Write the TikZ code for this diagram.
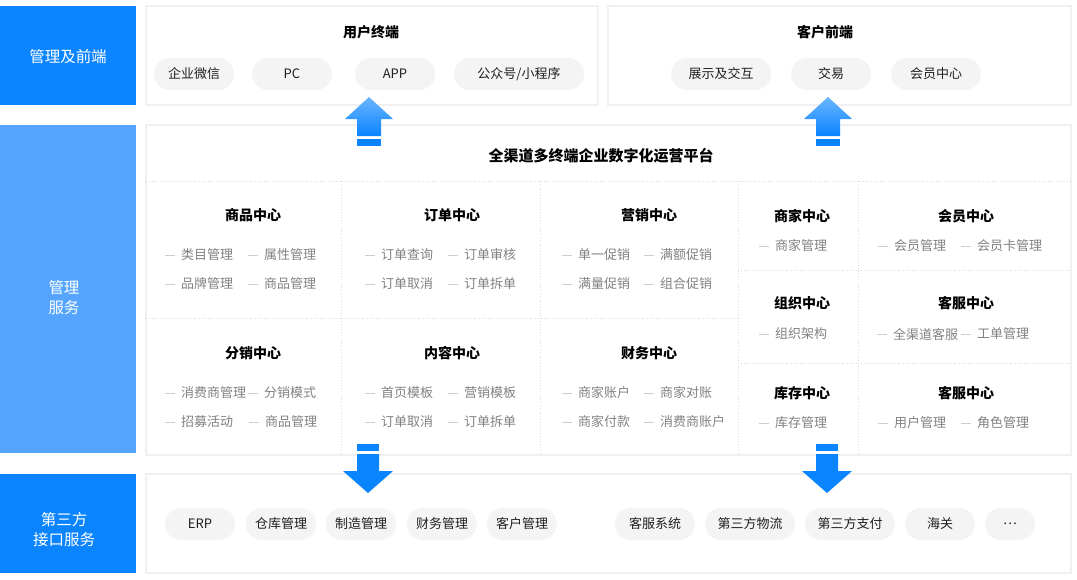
\documentclass[tikz,border=0pt]{standalone}
\usepackage{fontspec}
\setmainfont{Noto Sans CJK SC}
\usepackage{tikz}

\definecolor{mainblue}{RGB}{10,132,255}
\definecolor{lightblue}{RGB}{85,165,255}
\definecolor{tipblue}{RGB}{105,182,255}
\definecolor{pillgray}{RGB}{244,244,244}
\definecolor{linegray}{RGB}{218,218,218}
\definecolor{itemgray}{RGB}{130,130,130}
\definecolor{dashgray}{RGB}{205,205,205}
\definecolor{framegray}{RGB}{240,240,240}

\tikzset{
  sidebox/.style={text=white, font=\fontsize{15.5}{20}\selectfont, align=center},
  panel/.style={fill=white, draw=framegray, line width=1.2},
  pill/.style={fill=pillgray, rounded corners=16, minimum height=32, inner sep=0,
    text=black!88, font=\fontsize{13}{15}\selectfont},
  head/.style={yshift=-0.5pt, font=\bfseries\fontsize{14}{16}\selectfont},
  item/.style={anchor=west, inner sep=0, yshift=-1pt, text=itemgray, font=\fontsize{13}{15}\selectfont},
  gridline/.style={linegray, dotted, line width=0.8},
}

\begin{document}
\begin{tikzpicture}[x=1pt,y=-1pt]
\useasboundingbox (0,0) rectangle (1077,579);

% left column
\fill[mainblue] (0,6) rectangle (136,105);
\fill[lightblue] (0,125) rectangle (136,453);
\fill[mainblue] (0,474) rectangle (136,573);
\node[sidebox] (front) at (68,57) {管理及前端};
\node[sidebox] (manage) at (64,298) {管理\\服务};
\node[sidebox] (third) at (64,530) {第三方\\接口服务};

% panels
\draw[panel] (146,6) rectangle (598,105);
\draw[panel] (608,6) rectangle (1071,105);
\draw[panel] (146,125) rectangle (1071,455);
\draw[panel] (146,474) rectangle (1071,573);

\node[head] (user) at (371,32) {用户终端};
\node[head] (cust) at (825,32) {客户前端};
\node[font=\bfseries\fontsize{15}{17}\selectfont] (plat) at (601,156) {全渠道多终端企业数字化运营平台};

% pills
\foreach \n/\x/\w/\t in {p1/194/80/企业微信, p2/292/80/PC, p3/395/80/APP, p4/519/130/{公众号/小程序},
    p5/721/100/展示及交互, p6/831/80/交易, p7/936/90/会员中心}
  \node[pill, minimum width=\w] (\n) at (\x,74) {\t};
\foreach \n/\x/\w/\t in {q1/200/70/ERP, q2/281/70/仓库管理, q3/361/70/制造管理, q4/442/70/财务管理,
    q5/522/70/客户管理, q6/655/80/客服系统, q7/750/90/第三方物流, q8/850/90/第三方支付,
    q9/940/70/海关, q10/1010/50/…}
  \node[pill, minimum width=\w] (\n) at (\x,524) {\t};

% grid
\draw[gridline] (146,181) -- (1071,181);
\draw[gridline] (146,318) -- (738,318);
\draw[gridline] (738,270) -- (1071,270);
\draw[gridline] (738,363) -- (1071,363);
\foreach \x in {341,540,738,858}
  \draw[gridline] (\x,181) -- (\x,455);

% centre titles
\foreach \n/\x/\y/\t in {c1/253/215/商品中心, c2/452/215/订单中心, c3/649/215/营销中心,
    c4/253/353/分销中心, c5/452/353/内容中心, c6/649/353/财务中心,
    c7/802/216/商家中心, c8/966/216/会员中心, c9/802/303/组织中心,
    c10/966/303/客服中心, c11/802/393/库存中心, c12/966/393/客服中心}
  \node[head] (\n) at (\x,\y) {\t};

% items
\foreach \x/\y/\t in {181/254/类目管理, 264/254/属性管理, 181/283/品牌管理, 264/283/商品管理,
    381/254/订单查询, 464/254/订单审核, 381/283/订单取消, 464/283/订单拆单,
    578/254/单一促销, 660/254/满额促销, 578/283/满量促销, 660/283/组合促销,
    181/392/消费商管理, 264/392/分销模式, 181/421/招募活动, 265/421/商品管理,
    381/392/首页模板, 464/392/营销模板, 381/421/订单取消, 464/421/订单拆单,
    578/392/商家账户, 660/392/商家对账, 578/421/商家付款, 660/421/消费商账户,
    775/245/商家管理, 894/245/会员管理, 977/245/会员卡管理,
    775/333/组织架构, 893/333/全渠道客服, 977/333/工单管理,
    775/422/库存管理, 894/422/用户管理, 977/422/角色管理}
{
  \node[item] (it-\x-\y) at (\x,\y) {\t};
  \draw[dashgray] ([xshift=-16]it-\x-\y.west) -- ([xshift=-6]it-\x-\y.west);
}

% arrows
\foreach \cx in {369,828} {
  \shade[top color=tipblue, bottom color=mainblue] (\cx,97) -- (\cx+24,119) -- (\cx+12,119)
    -- (\cx+12,136) -- (\cx-12,136) -- (\cx-12,119) -- (\cx-24,119) -- cycle;
  \fill[mainblue] (\cx-12,139) rectangle (\cx+12,146);
}
\foreach \cx in {368,827} {
  \fill[mainblue] (\cx-11,444) rectangle (\cx+11,451);
  \fill[mainblue] (\cx-11,454) -- (\cx+11,454) -- (\cx+11,471) -- (\cx+25,471)
    -- (\cx,493) -- (\cx-25,471) -- (\cx-11,471) -- cycle;
}
\end{tikzpicture}
\end{document}
